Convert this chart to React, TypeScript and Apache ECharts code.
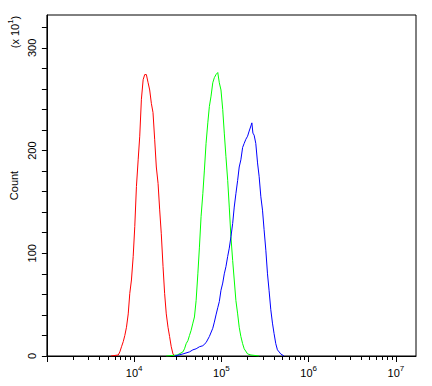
import React, { useEffect, useRef } from 'react';
import * as echarts from 'echarts';

// x values are log10(fluorescence intensity)
const redLogIntensity = [3.733, 3.818, 3.836, 3.855, 3.875, 3.893, 3.912, 3.932, 3.950, 3.969, 3.989, 4.007, 4.026, 4.046, 4.064, 4.083, 4.103, 4.121, 4.140, 4.160, 4.178, 4.197, 4.216, 4.235, 4.254, 4.274, 4.292, 4.311, 4.331, 4.349, 4.368, 4.388, 4.406, 4.425, 4.445, 4.463];
const redCount = [0, 1, 4, 9, 14, 20, 28, 41, 61, 74, 97, 126, 165, 191, 214, 250, 269, 274, 274, 266, 259, 246, 237, 211, 184, 168, 143, 119, 87, 61, 41, 28, 19, 9, 2, 0];

const greenLogIntensity = [4.368, 4.494, 4.559, 4.577, 4.596, 4.616, 4.634, 4.653, 4.673, 4.691, 4.710, 4.730, 4.748, 4.767, 4.787, 4.805, 4.824, 4.844, 4.862, 4.881, 4.901, 4.919, 4.938, 4.958, 4.976, 4.995, 5.015, 5.033, 5.052, 5.072, 5.090, 5.109, 5.129, 5.147, 5.166, 5.186, 5.204, 5.223, 5.243, 5.261, 5.300, 5.338, 5.432];
const greenCount = [0, 1, 4, 7, 12, 15, 20, 25, 32, 38, 54, 80, 106, 136, 158, 181, 207, 227, 243, 253, 266, 271, 274, 276, 266, 259, 240, 217, 194, 171, 145, 116, 93, 74, 54, 41, 28, 19, 12, 7, 2, 1, 0];

const blueLogIntensity = [4.463, 4.559, 4.634, 4.673, 4.710, 4.748, 4.787, 4.824, 4.862, 4.901, 4.919, 4.938, 4.958, 4.976, 4.995, 5.015, 5.033, 5.052, 5.072, 5.090, 5.109, 5.129, 5.147, 5.166, 5.186, 5.204, 5.223, 5.243, 5.261, 5.280, 5.300, 5.318, 5.338, 5.349, 5.361, 5.375, 5.394, 5.414, 5.432, 5.452, 5.471, 5.489, 5.509, 5.528, 5.546, 5.566, 5.585, 5.603, 5.623, 5.642, 5.680, 5.717];
const blueCount = [0, 2, 4, 6, 7, 9, 10, 13, 19, 27, 33, 40, 47, 53, 64, 71, 80, 87, 97, 105, 116, 129, 145, 158, 171, 184, 191, 203, 207, 211, 214, 219, 224, 227, 217, 215, 207, 188, 175, 155, 142, 123, 103, 80, 64, 45, 32, 22, 12, 6, 2, 0];

const xMin = 3;
const xMax = 7.23;
const majorDecades = [3, 4, 5, 6, 7];
const labelDecades = [4, 5, 6, 7];
const minorMultipliers = [2, 3, 4, 5, 6, 7, 8, 9];
const yMax = 332;
const yLabelValues = [0, 100, 200, 300];
const yTickValues = [0, 20, 40, 60, 80, 100, 120, 140, 160, 180, 200, 220, 240, 260, 280, 300, 320];

const FONT = 'Liberation Sans, Arial, sans-serif';

function zip(xs: number[], ys: number[]) {
  return xs.map((x, i) => [x, ys[i]]);
}

export default function App() {
  const ref = useRef<HTMLDivElement>(null);
  useEffect(() => {
    if (!ref.current) return;
    const chart = echarts.init(ref.current, undefined, { renderer: 'svg' });
    const minorTicks: number[] = [];
    majorDecades.forEach((d) => {
      minorMultipliers.forEach((m) => {
        const v = d + Math.log10(m);
        if (v <= xMax) minorTicks.push(v);
      });
    });
    const black = '#000';
    chart.setOption({
      animation: false,
      grid: { left: 45, right: 16, top: 15, bottom: 30, show: true, borderColor: black, borderWidth: 1, backgroundColor: 'transparent' },
      xAxis: [
        {
          type: 'value',
          min: xMin,
          max: xMax,
          position: 'bottom',
          axisLine: { show: true, onZero: false, lineStyle: { color: black, width: 1 } },
          axisTick: { show: true, length: 6, customValues: majorDecades, lineStyle: { color: black, width: 1 } },
          splitLine: { show: false },
          axisLabel: {
            show: true,
            customValues: labelDecades,
            margin: 8,
            formatter: (v: number) => `{b|10}{s|${Math.round(v)}}`,
            rich: {
              b: { fontFamily: FONT, fontSize: 11, color: black, lineHeight: 14, verticalAlign: 'bottom' },
              s: { fontFamily: FONT, fontSize: 8, color: black, lineHeight: 14, verticalAlign: 'top' },
            },
          },
        },
        {
          type: 'value',
          min: xMin,
          max: xMax,
          position: 'bottom',
          axisLine: { show: false },
          axisTick: { show: true, length: 4, customValues: minorTicks, lineStyle: { color: black, width: 1 } },
          splitLine: { show: false },
          axisLabel: { show: false },
        },
      ],
      yAxis: {
        type: 'value',
        min: 0,
        max: yMax,
        axisLine: { show: true, onZero: false, lineStyle: { color: black, width: 1 } },
        axisTick: { show: true, length: 5, customValues: yTickValues, lineStyle: { color: black, width: 1 } },
        splitLine: { show: false },
        axisLabel: { show: true, customValues: yLabelValues, rotate: 90, margin: 9, fontFamily: FONT, fontSize: 11, color: black },
        name: 'Count',
        nameLocation: 'middle',
        nameRotate: 90,
        nameGap: 25,
        nameTextStyle: { fontFamily: FONT, fontSize: 11, color: black },
      },
      graphic: [
        {
          type: 'text',
          x: 13,
          y: 32,
          rotation: Math.PI / 2,
          style: {
            text: '{a|(x 10}{s|1}{a|)}',
            align: 'center',
            verticalAlign: 'middle',
            fill: black,
            rich: {
              a: { fontFamily: FONT, fontSize: 11, fill: black, lineHeight: 14, verticalAlign: 'bottom' },
              s: { fontFamily: FONT, fontSize: 8, fill: black, lineHeight: 14, verticalAlign: 'top' },
            },
          },
        },
      ],
      series: [
        { type: 'line', data: zip(redLogIntensity, redCount), showSymbol: false, symbol: 'none', lineStyle: { color: '#ff0000', width: 1 }, itemStyle: { color: '#ff0000' } },
        { type: 'line', data: zip(greenLogIntensity, greenCount), showSymbol: false, symbol: 'none', lineStyle: { color: '#00ff00', width: 1 }, itemStyle: { color: '#00ff00' } },
        { type: 'line', data: zip(blueLogIntensity, blueCount), showSymbol: false, symbol: 'none', lineStyle: { color: '#0000ff', width: 1 }, itemStyle: { color: '#0000ff' } },
      ],
    });
    return () => chart.dispose();
  }, []);
  return <div ref={ref} style={{ position: 'absolute', left: 0, top: 0, width: 432, height: 386 }} />;
}
